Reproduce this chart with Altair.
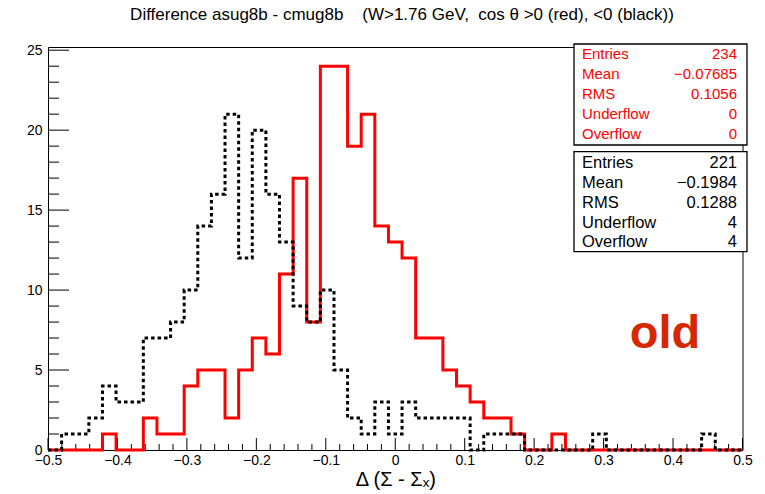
import altair as alt
import pandas as pd

FONT = "Liberation Sans"

# ---- data (51 bins from -0.5 to 0.5) ----
x_min, x_max, n_bins = -0.5, 0.5, 51
red_counts = [0, 0, 0, 0, 1, 0, 0, 2, 1, 1, 4, 5, 5, 2, 5, 7, 6, 11, 17, 8,
              24, 24, 19, 21, 14, 13, 12, 7, 7, 5, 4, 3, 2, 2, 1, 0, 0, 1, 0, 0,
              0, 0, 0, 0, 0, 0, 0, 0, 0, 0, 0]
black_counts = [0, 1, 1, 2, 4, 3, 3, 7, 7, 8, 10, 14, 16, 21, 12, 20, 16, 13, 9, 8,
                10, 5, 2, 1, 3, 1, 3, 2, 2, 2, 2, 0, 1, 1, 1, 0, 0, 0, 0, 0,
                1, 0, 0, 0, 0, 0, 0, 0, 1, 0, 0]

x_major = [-0.5, -0.4, -0.3, -0.2, -0.1, 0.0, 0.1, 0.2, 0.3, 0.4, 0.5]
x_minor = [round(-0.5 + 0.02 * k, 2) for k in range(51) if k % 5 != 0]
y_major = [0, 5, 10, 15, 20, 25]
y_minor = [v for v in range(26) if v % 5 != 0]

stat_names = ["Entries", "Mean", "RMS", "Underflow", "Overflow"]
red_stats = ["234", "\u22120.07685", "0.1056", "0", "0"]
black_stats = ["221", "\u22120.1984", "0.1288", "4", "4"]

title_text = ("Difference asug8b - cmug8b \u00a0\u00a0 (W>1.76 GeV, \u00a0cos \u03b8 >0 (red), <0 (black))")
x_title = "\u0394 (\u03a3 - \u03a3\u2093)"
tag_text = "old"

# ---- build tables ----
edges = [x_min + i * (x_max - x_min) / n_bins for i in range(n_bins + 1)]
red_df = pd.DataFrame({"x": edges, "count": red_counts + [red_counts[-1]]})
black_df = pd.DataFrame({"x": edges, "count": black_counts + [black_counts[-1]]})
one = pd.DataFrame({"a": [0]})

W, H = 694.5, 403
x_scale = alt.Scale(domain=[x_min, x_max], nice=False, zero=False)
y_scale = alt.Scale(domain=[0, 25.2], nice=False, zero=True)

x_axis = alt.Axis(values=x_major, ticks=False, tickSize=0, domain=False, grid=False,
                  labelExpr="datum.value == 0 ? '0' : format(datum.value, '.1f')",
                  labelFont=FONT, labelFontSize=14, labelColor="black", labelPadding=3,
                  labelFlush=False, labelOverlap=False,
                  title=x_title, titleFont=FONT, titleFontSize=20, titleFontWeight="normal",
                  titleColor="black", titlePadding=2)
y_axis = alt.Axis(values=y_major, ticks=False, tickSize=0, domain=False, grid=False,
                  labelFont=FONT, labelFontSize=14, labelColor="black", labelPadding=6,
                  labelFlush=False, labelOverlap=False, title=None)

def X(field):
    return alt.X(field, scale=x_scale, axis=x_axis)

def Y(field):
    return alt.Y(field, scale=y_scale, axis=y_axis)

red_line = alt.Chart(red_df).mark_line(interpolate="step-after", color="#ff0000",
                                       strokeWidth=3).encode(x=X("x:Q"), y=Y("count:Q"))
black_line = alt.Chart(black_df).mark_line(interpolate="step-after", color="black",
                                           strokeWidth=3, strokeDash=[3.5, 3]).encode(
    x=X("x:Q"), y=Y("count:Q"))

def xticks(vals, length):
    return alt.Chart(pd.DataFrame({"x": vals})).mark_rule(color="black", strokeWidth=1).encode(
        x=X("x:Q"), y=alt.value(H), y2=alt.value(H - length))

def yticks(vals, length):
    return alt.Chart(pd.DataFrame({"count": vals})).mark_rule(color="black", strokeWidth=1).encode(
        y=Y("count:Q"), x=alt.value(0), x2=alt.value(length))

def box(y0, y1):
    return alt.Chart(one).mark_rect(fill="white", stroke="black", strokeWidth=1.3).encode(
        x=alt.value(526), x2=alt.value(699), y=alt.value(y0), y2=alt.value(y1))

def label(text, color, size, x, y, align="left", lh=20, weight="normal"):
    return alt.Chart(one).mark_text(align=align, baseline="alphabetic", font=FONT,
                                    fontSize=size, lineHeight=lh, color=color,
                                    fontWeight=weight).encode(
        x=alt.value(x), y=alt.value(y), text=alt.value(text))

layers = [
    xticks(x_minor, 6), xticks(x_major, 12),
    yticks(y_minor, 11), yticks(y_major, 21),
    red_line, black_line,
    label(tag_text, "#d62800", 47, 617, 301, align="center", weight="bold"),
    box(-3, 98),
    label(stat_names, "#ff0000", 15, 534, 12.3, "left", 20),
    label(red_stats, "#ff0000", 15, 689, 12.3, "right", 20),
    box(104.7, 204.7),
    label(stat_names, "black", 16.5, 534, 121.3, "left", 19.75),
    label(black_stats, "black", 16.5, 689, 121.3, "right", 19.75),
    label(title_text, "black", 17, 354, -27, align="center"),
]

chart = alt.layer(*layers).properties(
    width=W, height=H,
    padding={"left": 48, "top": 47, "right": 22.5, "bottom": 44},
    autosize=alt.AutoSizeParams(type="none"),
    background="white",
).configure_view(stroke="black", strokeWidth=1)

chart.save("out.html", embed_options={"renderer": "svg", "actions": False})
